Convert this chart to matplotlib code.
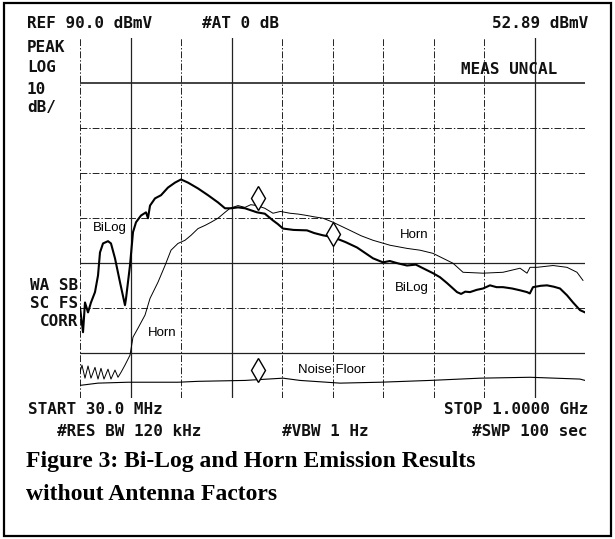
import matplotlib
matplotlib.use("Agg")
import matplotlib.pyplot as plt
from matplotlib.patches import Rectangle

# ---------------- data ----------------
start_mhz, stop_mhz = 30.0, 1000.0
ref_level, db_per_div, n_ydiv, n_xdiv = 90.0, 10.0, 8, 10

bilog_f = [30.0, 35.8, 39.6, 45.4, 51.1, 58.8, 64.6, 68.4, 74.2, 83.8, 89.5, 97.2,
           106.8, 116.4, 118.4, 126.0, 131.8, 137.6, 147.2, 156.8, 160.6, 164.5,
           174.1, 185.6, 199.0, 212.5, 224.0, 237.4, 256.7, 275.9, 295.1, 308.5,
           320.0, 333.5, 346.9, 370.0, 385.0, 400.7, 410.0, 419.9, 440.0, 466.0,
           480.0, 496.7, 516.0, 540.0, 562.1, 592.8, 612.0, 625.0, 640.0, 658.1,
           675.0, 688.8, 708.0, 721.5, 735.0, 754.2, 762.0, 770.0, 779.1, 792.0,
           804.1, 817.5, 830.0, 842.5, 860.0, 875.2, 888.6, 894.0, 900.1, 915.0,
           927.0, 940.0, 952.0, 965.4, 977.0, 990.4, 1000.0]
bilog_db = [30.1, 24.6, 31.2, 29.0, 31.2, 33.5, 37.2, 42.3, 44.3, 44.8, 44.3, 41.0,
            35.7, 30.6, 32.1, 39.4, 46.8, 49.0, 50.5, 51.2, 49.9, 52.7,
            54.3, 55.0, 56.7, 57.8, 58.5, 57.8, 56.5, 55.0, 53.4, 52.1,
            52.1, 52.3, 52.1, 51.2, 50.9, 49.4, 48.6, 47.6, 47.3, 47.2,
            46.6, 46.1, 45.7, 44.6, 43.4, 41.0, 40.1, 40.4, 39.9, 39.4,
            39.6, 38.8, 37.7, 36.8, 35.5, 33.5, 33.1, 33.6, 33.5, 34.0,
            34.3, 35.0, 34.6, 34.6, 34.3, 33.9, 33.5, 33.2, 34.6, 34.9,
            35.0, 34.7, 34.3, 32.8, 31.2, 29.5, 29.0]

horn_f = [30.0, 33.8, 39.6, 45.4, 51.1, 58.8, 64.6, 70.3, 76.1, 83.8, 89.5, 97.2,
          103.0, 108.8, 116.4, 126.0, 131.8, 141.4, 154.9, 164.5, 179.8, 193.3,
          204.8, 218.2, 231.7, 243.2, 256.7, 270.1, 281.6, 295.1, 308.5, 318.1,
          333.5, 346.9, 358.0, 370.0, 385.0, 400.7, 415.0, 433.4, 450.0, 466.0,
          480.0, 496.7, 516.0, 548.6, 570.0, 592.8, 625.5, 658.1, 683.1, 708.0,
          746.5, 765.7, 785.0, 804.1, 842.5, 875.2, 888.6, 894.4, 907.8, 938.6,
          965.4, 984.6, 996.1]
horn_db = [15.7, 17.3, 14.4, 17.1, 14.4, 16.8, 14.2, 16.6, 14.2, 16.4, 14.2, 16.2,
           14.6, 15.7, 17.3, 19.5, 23.5, 25.5, 28.4, 32.1, 35.7, 39.4,
           42.8, 44.3, 45.0, 46.1, 47.6, 48.3, 49.0, 49.9, 51.2, 52.1,
           52.7, 52.3, 52.9, 52.7, 52.1, 51.0, 51.4, 51.0, 50.8, 50.5,
           50.2, 49.9, 49.0, 47.2, 46.0, 45.0, 43.9, 43.2, 42.8, 42.1,
           39.9, 37.9, 37.8, 37.7, 37.9, 38.8, 37.7, 39.0, 39.0, 39.4,
           39.0, 37.9, 36.1]

noise_f = [30.0, 64.6, 122.2, 218.2, 256.7, 346.9, 419.9, 452.6, 529.4, 606.2,
           702.3, 798.3, 894.4, 990.4, 1000.0]
noise_db = [12.8, 13.3, 13.5, 13.5, 13.7, 13.9, 14.4, 13.9, 13.3, 13.5,
            13.9, 14.4, 14.6, 14.2, 13.9]

marker_f = [371.9, 516.0, 371.9]
marker_db = [54.3, 46.5, 16.2]

# ---------------- figure ----------------
W, H = 615, 539
fig = plt.figure(figsize=(W / 100, H / 100), dpi=100)
fig.patch.set_facecolor("white")

def fx(px):
    return px / W

def fy(py):
    return 1 - py / H

# outer frame of the whole picture
fig.add_artist(Rectangle((fx(4), fy(536)), fx(607), 533 / H, transform=fig.transFigure,
                         fill=False, lw=1.6, ec="black"))

L, R, T, B = 80, 585, 37.5, 398
ax = fig.add_axes([fx(L), fy(B), (R - L) / W, (B - T) / H])
ax.set_xlim(start_mhz, stop_mhz)
ax.set_ylim(ref_level - n_ydiv * db_per_div, ref_level)
ax.axis("off")

dash = (0, (7, 2, 1.5, 2))
xgrid = [start_mhz + i * (stop_mhz - start_mhz) / n_xdiv for i in range(n_xdiv + 1)]
ygrid = [ref_level - i * db_per_div for i in range(n_ydiv + 1)]
solid_x = {1, 3, 9}
solid_y = {1, 5, 7}
for i, xv in enumerate(xgrid):
    ax.axvline(xv, color="#222222", lw=0.9 if i in solid_x else 0.7,
               ls="-" if i in solid_x else dash, zorder=1)
for i, yv in enumerate(ygrid):
    ax.axhline(yv, color="#222222", lw=1.2 if i == 1 else (0.9 if i in solid_y else 0.7),
               ls="-" if i in solid_y or i == 1 else dash, zorder=1)

ax.plot(noise_f, noise_db, color="black", lw=0.8, zorder=3)
ax.plot(horn_f, horn_db, color="black", lw=0.7, zorder=3)
ax.plot(bilog_f, bilog_db, color="black", lw=1.5, zorder=4)
ax.plot(marker_f, marker_db, ls="none", marker="d", ms=12, mfc="white",
        mec="black", mew=1.0, zorder=5)

# trace labels
lab = dict(family="Liberation Sans", fontsize=9.5, color="black", va="center")
fig.text(fx(93), fy(228), "BiLog", **lab)
fig.text(fx(148), fy(333), "Horn", **lab)
fig.text(fx(400), fy(235), "Horn", **lab)
fig.text(fx(395), fy(288), "BiLog", **lab)
fig.text(fx(298), fy(370), "Noise Floor", **lab)

# instrument annotations
ins = dict(family="DejaVu Sans Mono", fontweight="bold", fontsize=11.5, color="#111111",
           va="center")
fig.text(fx(27), fy(24), "REF 90.0 dBmV", **ins)
fig.text(fx(202), fy(24), "#AT 0 dB", **ins)
fig.text(fx(588), fy(24), "52.89 dBmV", ha="right", **ins)
fig.text(fx(27), fy(48), "PEAK", **ins)
fig.text(fx(27), fy(68), "LOG", **ins)
fig.text(fx(27), fy(89), "10", **ins)
fig.text(fx(27), fy(108), "dB/", **ins)
fig.text(fx(557), fy(69), "MEAS UNCAL", ha="right", **ins)
fig.text(fx(78), fy(285), "WA SB", ha="right", **ins)
fig.text(fx(78), fy(304), "SC FS", ha="right", **ins)
fig.text(fx(78), fy(322), "CORR", ha="right", **ins)
fig.text(fx(28), fy(410), "START 30.0 MHz", **ins)
fig.text(fx(588), fy(410), "STOP 1.0000 GHz", ha="right", **ins)
fig.text(fx(57), fy(431), "#RES BW 120 kHz", **ins)
fig.text(fx(282), fy(431), "#VBW 1 Hz", **ins)
fig.text(fx(588), fy(431), "#SWP 100 sec", ha="right", **ins)

# caption
cap = dict(family="Liberation Serif", fontweight="bold", fontsize=17, color="black",
           va="center")
fig.text(fx(26), fy(461), "Figure 3: Bi-Log and Horn Emission Results", **cap)
fig.text(fx(26), fy(494), "without Antenna Factors", **cap)

fig.savefig("out.png", dpi=100, facecolor="white")
